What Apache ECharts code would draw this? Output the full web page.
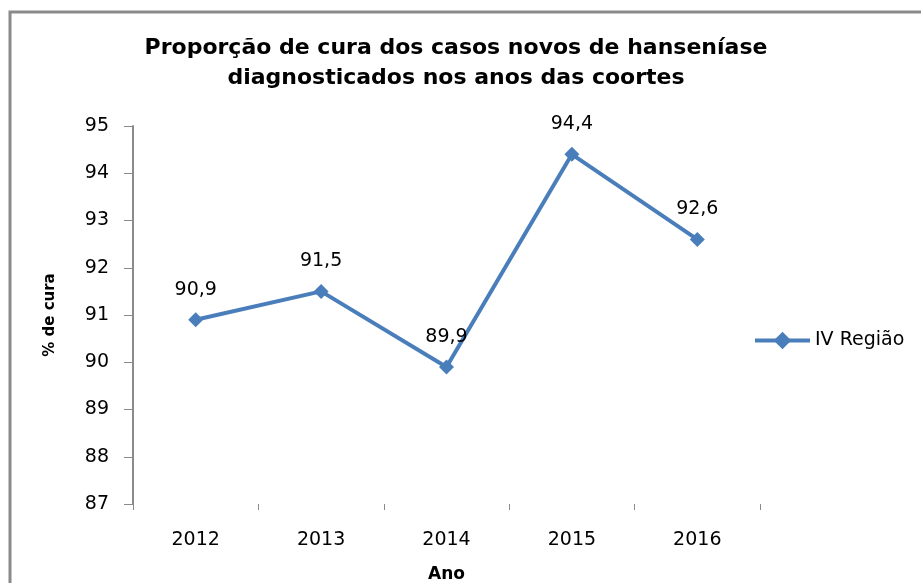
<!DOCTYPE html>
<html>
<head>
<meta charset="utf-8">
<script src="https://cdn.jsdelivr.net/npm/echarts@6/dist/echarts.min.js"></script>
<style>
  html, body { margin: 0; padding: 0; background: #fff; }
  #chart { width: 921px; height: 583px; }
</style>
</head>
<body>
<div id="chart"></div>
<script>
var anos = ['2012', '2013', '2014', '2015', '2016'];
var cura = [90.9, 91.5, 89.9, 94.4, 92.6];
var serieNome = 'IV Região';

var myChart = echarts.init(document.getElementById('chart'));
var fonte = 'DejaVu Sans';
var option = {
  animation: false,
  graphic: [{
    type: 'rect',
    shape: { x: 10, y: 12, width: 930, height: 600 },
    style: { fill: 'none', stroke: '#8a8a8a', lineWidth: 3 }
  }],
  title: {
    text: 'Proporção de cura dos casos novos de hanseníase\ndiagnosticados nos anos das coortes',
    left: 451,
    textAlign: 'center',
    top: 28,
    textStyle: { fontFamily: fonte, fontWeight: 'bold', fontSize: 22, lineHeight: 30, color: '#000' }
  },
  legend: {
    data: [serieNome],
    orient: 'vertical',
    left: 753,
    top: 331,
    padding: 0,
    itemWidth: 55,
    itemHeight: 22,
    itemGap: 8,
    lineStyle: { width: 4 },
    textStyle: { fontFamily: fonte, fontSize: 19, color: '#000' }
  },
  grid: { left: 133, right: 161, top: 126, bottom: 79, outerBoundsMode: 'none' },
  xAxis: {
    type: 'category',
    data: anos,
    boundaryGap: true,
    name: 'Ano',
    nameLocation: 'middle',
    nameGap: 62,
    nameTextStyle: { fontFamily: fonte, fontWeight: 'bold', fontSize: 17, color: '#000' },
    axisLine: { show: false },
    axisTick: { show: true, alignWithLabel: false, length: 6, lineStyle: { color: '#8a8a8a' } },
    axisLabel: { fontFamily: fonte, fontSize: 19, color: '#000', margin: 27 }
  },
  yAxis: {
    type: 'value',
    min: 87,
    max: 95,
    interval: 1,
    name: '% de cura',
    nameLocation: 'middle',
    nameRotate: 90,
    nameGap: 75,
    nameTextStyle: { fontFamily: fonte, fontWeight: 'bold', fontSize: 15, color: '#000' },
    axisLine: { show: true, lineStyle: { color: '#8a8a8a', width: 2 } },
    axisTick: { show: true, length: 9, lineStyle: { color: '#8a8a8a' } },
    splitLine: { show: false },
    axisLabel: { fontFamily: fonte, fontSize: 19, color: '#000', margin: 24 }
  },
  series: [{
    name: serieNome,
    type: 'line',
    data: cura,
    symbol: 'diamond',
    symbolSize: 15,
    lineStyle: { color: '#4a7ebb', width: 4 },
    itemStyle: { color: '#4a7ebb' },
    label: {
      show: true,
      position: 'top',
      distance: 13,
      fontFamily: fonte,
      fontSize: 19,
      color: '#000',
      formatter: function (p) { return String(p.value).replace('.', ','); }
    }
  }]
};
myChart.setOption(option);
</script>
</body>
</html>
